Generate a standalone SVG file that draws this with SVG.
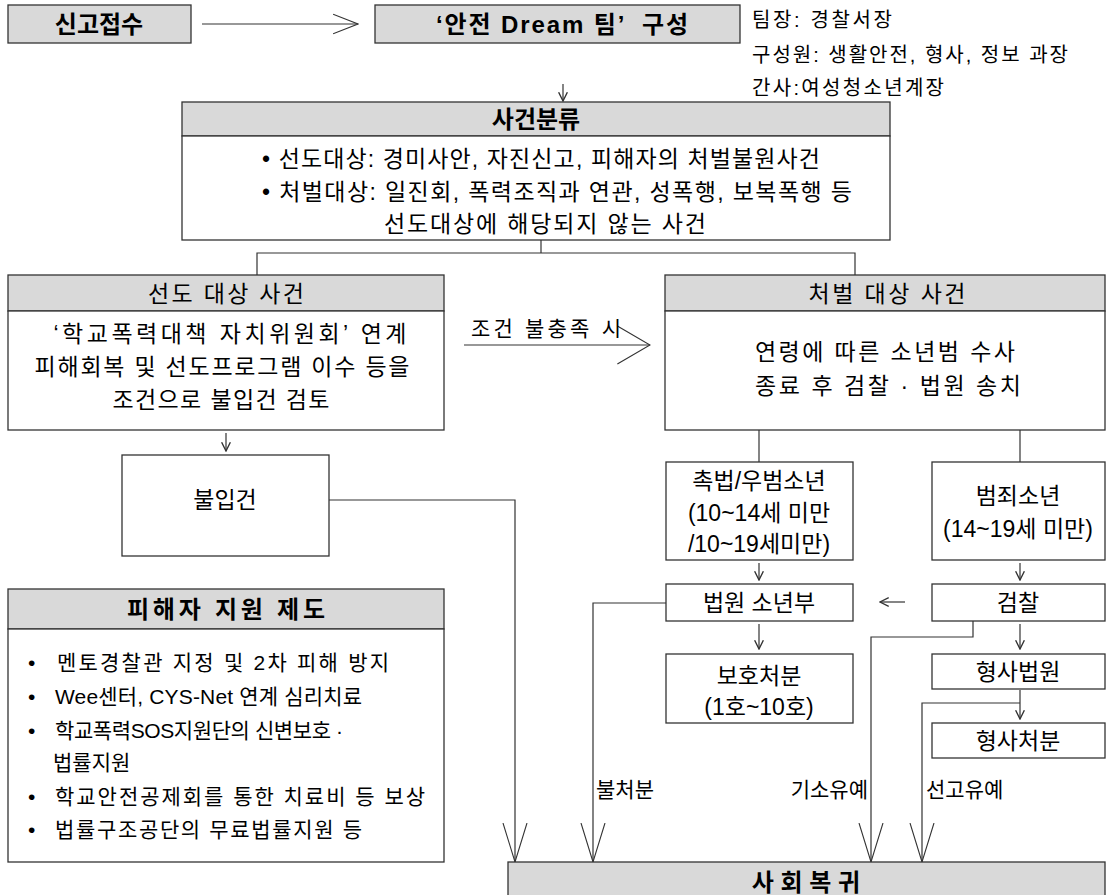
<svg xmlns="http://www.w3.org/2000/svg" width="1113" height="895" viewBox="0 0 1113 895">
<defs>
<style>
.box{fill:#fff;stroke:#333;stroke-width:1.3}
.hdr{fill:#d9d9d9;stroke:#333;stroke-width:1.3}
.t{font-family:"Liberation Sans","Noto Sans CJK KR",sans-serif;font-size:23px;fill:#000;text-anchor:middle}
.st{text-anchor:start}
.tl{font-family:"Liberation Sans","Noto Sans CJK KR",sans-serif;font-size:20px;fill:#000}
.tv{font-family:"Liberation Sans","Noto Sans CJK KR",sans-serif;font-size:21px;fill:#000}
.b{font-weight:bold;font-size:24px}
.ln{stroke:#333;stroke-width:1.2;fill:none}
</style>
<marker id="sm" markerUnits="userSpaceOnUse" markerWidth="10" markerHeight="10" viewBox="0 0 8 8" refX="7" refY="4" orient="auto"><path d="M0,0.5 L7,4 L0,7.5" fill="none" stroke="#333" stroke-width="1.1"/></marker>
<marker id="top" markerUnits="userSpaceOnUse" markerWidth="26" markerHeight="22" viewBox="0 0 24 20" refX="23" refY="10" orient="auto"><path d="M0,1 L23,10 L0,19" fill="none" stroke="#333" stroke-width="1.1"/></marker>
<marker id="mid" markerUnits="userSpaceOnUse" markerWidth="34" markerHeight="40" viewBox="0 0 32 38" refX="31" refY="19" orient="auto"><path d="M0,1 L31,19 L0,37" fill="none" stroke="#333" stroke-width="1.1"/></marker>
<marker id="big" markerUnits="userSpaceOnUse" markerWidth="40" markerHeight="26" viewBox="0 0 40 26" refX="39" refY="13" orient="auto"><path d="M0,1 L39,13 L0,25" fill="none" stroke="#333" stroke-width="1.1"/></marker>
</defs>
<rect width="1113" height="895" fill="#fff"/>

<g id="connectors">
<line class="ln" x1="202" y1="24" x2="358" y2="24" marker-end="url(#top)"/>
<line class="ln" x1="563" y1="84" x2="563" y2="101" marker-end="url(#sm)"/>
<polyline class="ln" points="541,240 541,253"/>
<polyline class="ln" points="257,275 257,253 855,253 855,275"/>
<line class="ln" x1="464" y1="345" x2="650" y2="345" marker-end="url(#mid)"/>
<line class="ln" x1="226" y1="433" x2="226" y2="451" marker-end="url(#sm)"/>
<line class="ln" x1="759" y1="430" x2="759" y2="462"/>
<line class="ln" x1="1020" y1="430" x2="1020" y2="462"/>
<line class="ln" x1="759" y1="563" x2="759" y2="580" marker-end="url(#sm)"/>
<line class="ln" x1="1020" y1="563" x2="1020" y2="580" marker-end="url(#sm)"/>
<line class="ln" x1="905" y1="602" x2="880" y2="602" marker-end="url(#sm)"/>
<line class="ln" x1="759" y1="624" x2="759" y2="649" marker-end="url(#sm)"/>
<line class="ln" x1="1020" y1="624" x2="1020" y2="649" marker-end="url(#sm)"/>
<line class="ln" x1="1020" y1="690" x2="1020" y2="719" marker-end="url(#sm)"/>
<polyline class="ln" points="329,500 515,500 515,862" marker-end="url(#big)"/>
<polyline class="ln" points="666,603 593,603 593,862" marker-end="url(#big)"/>
<polyline class="ln" points="973,621 973,637 871,637 871,862" marker-end="url(#big)"/>
<polyline class="ln" points="1020,703 922,703 922,862" marker-end="url(#big)"/>
<text class="tv" x="596" y="797">불처분</text>
<text class="tv" x="868" y="797" text-anchor="end">기소유예</text>
<text class="tv" x="926" y="797">선고유예</text>
<text class="tv" x="471" y="336" textLength="150" lengthAdjust="spacing">조건 불충족 시</text>
</g>

<g id="n-report">
<rect class="hdr" x="8" y="5" width="183" height="38"/>
<text class="t b" x="99" y="33">신고접수</text>
</g>
<g id="n-team">
<rect class="hdr" x="375" y="5" width="365" height="38"/>
<text class="t b" x="562" y="33" textLength="252" lengthAdjust="spacing" xml:space="preserve">‘안전 Dream 팀’  구성</text>
</g>
<g id="n-team-info">
<text class="tl" x="752" y="27" textLength="140" lengthAdjust="spacing">팀장: 경찰서장</text>
<text class="tl" x="752" y="62" textLength="316" lengthAdjust="spacing">구성원: 생활안전, 형사, 정보 과장</text>
<text class="tl" x="752" y="95" textLength="192" lengthAdjust="spacing">간사:여성청소년계장</text>
</g>
<g id="n-classify">
<rect class="hdr" x="182" y="102" width="708" height="34"/>
<rect class="box" x="182" y="136" width="708" height="104"/>
<text class="t b" x="536" y="128">사건분류</text>
<text class="t st" x="262" y="167" textLength="558" lengthAdjust="spacing">• 선도대상: 경미사안, 자진신고, 피해자의 처벌불원사건</text>
<text class="t st" x="262" y="200" textLength="590" lengthAdjust="spacing">• 처벌대상: 일진회, 폭력조직과 연관, 성폭행, 보복폭행 등</text>
<text class="t" x="545" y="232" textLength="322" lengthAdjust="spacing">선도대상에 해당되지 않는 사건</text>
</g>
<g id="n-guidance">
<rect class="hdr" x="8" y="275" width="436" height="36"/>
<rect class="box" x="8" y="311" width="436" height="119"/>
<text class="t" x="226" y="302" textLength="156" lengthAdjust="spacing">선도 대상 사건</text>
<text class="t" x="230" y="342" textLength="353" lengthAdjust="spacing">‘학교폭력대책 자치위원회’ 연계</text>
<text class="t" x="222" y="375" textLength="375" lengthAdjust="spacing">피해회복 및 선도프로그램 이수 등을</text>
<text class="t" x="221" y="408" textLength="217" lengthAdjust="spacing">조건으로 불입건 검토</text>
</g>
<g id="n-punish">
<rect class="hdr" x="665" y="275" width="440" height="36"/>
<rect class="box" x="665" y="311" width="440" height="119"/>
<text class="t" x="887" y="302" textLength="157" lengthAdjust="spacing">처벌 대상 사건</text>
<text class="t" x="885" y="360" textLength="260" lengthAdjust="spacing">연령에 따른 소년범 수사</text>
<text class="t" x="888" y="394" textLength="266" lengthAdjust="spacing">종료 후 검찰 · 법원 송치</text>
</g>
<g id="n-noindict">
<rect class="box" x="122" y="455" width="207" height="101"/>
<text class="t" x="225" y="508">불입건</text>
</g>
<g id="n-victim">
<rect class="hdr" x="8" y="589" width="436" height="40"/>
<rect class="box" x="8" y="629" width="436" height="233"/>
<text class="t b" x="226" y="618" textLength="198" lengthAdjust="spacing">피해자 지원 제도</text>
<g class="tv">
<text x="28" y="670">•</text><text x="57" y="670" textLength="332" lengthAdjust="spacing">멘토경찰관 지정 및 2차 피해 방지</text>
<text x="28" y="704">•</text><text x="55" y="704" textLength="307" lengthAdjust="spacing">Wee센터, CYS-Net 연계 심리치료</text>
<text x="28" y="738">•</text><text x="55" y="738" textLength="288" lengthAdjust="spacing">학교폭력SOS지원단의 신변보호 ·</text>
<text x="53" y="770">법률지원</text>
<text x="28" y="804">•</text><text x="55" y="804" textLength="370" lengthAdjust="spacing">학교안전공제회를 통한 치료비 등 보상</text>
<text x="28" y="837">•</text><text x="55" y="837" textLength="307" lengthAdjust="spacing">법률구조공단의 무료법률지원 등</text>
</g>
</g>
<g id="n-chokbeop">
<rect class="box" x="666" y="462" width="187" height="98"/>
<text class="t" x="759" y="489">촉법/우범소년</text>
<text class="t" x="759" y="521">(10~14세 미만</text>
<text class="t" x="759" y="552">/10~19세미만)</text>
</g>
<g id="n-crime">
<rect class="box" x="932" y="462" width="173" height="98"/>
<text class="t" x="1018" y="504">범죄소년</text>
<text class="t" x="1018" y="537">(14~19세 미만)</text>
</g>
<g id="n-juvcourt">
<rect class="box" x="666" y="584" width="187" height="37"/>
<text class="t" x="759" y="611">법원 소년부</text>
</g>
<g id="n-prosecution">
<rect class="box" x="932" y="584" width="173" height="37"/>
<text class="t" x="1018" y="611">검찰</text>
</g>
<g id="n-protect">
<rect class="box" x="666" y="654" width="187" height="69"/>
<text class="t" x="759" y="684">보호처분</text>
<text class="t" x="759" y="715">(1호~10호)</text>
</g>
<g id="n-crimcourt">
<rect class="box" x="932" y="654" width="173" height="35"/>
<text class="t" x="1018" y="680">형사법원</text>
</g>
<g id="n-crimpunish">
<rect class="box" x="932" y="723" width="173" height="35"/>
<text class="t" x="1018" y="749">형사처분</text>
</g>
<g id="n-return">
<rect class="hdr" x="508" y="862" width="597" height="45"/>
<text class="t b" x="806" y="891" xml:space="preserve">사 회 복 귀</text>
</g>
</svg>
